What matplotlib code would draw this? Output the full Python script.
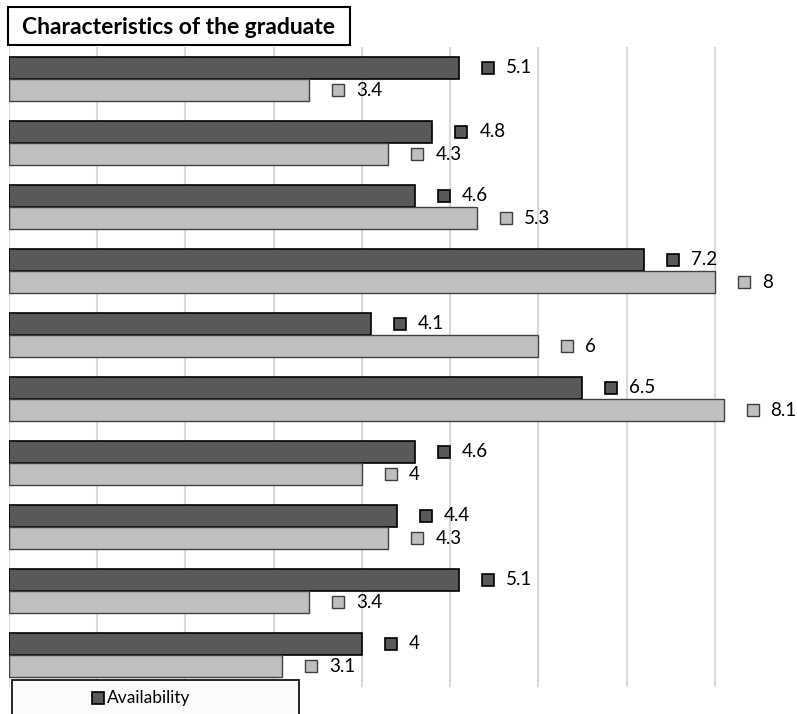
import matplotlib
matplotlib.use("Agg")
import matplotlib.pyplot as plt
from matplotlib.patches import Rectangle
from matplotlib.transforms import offset_copy
import numpy as np

plt.rcParams['font.family'] = ['Lato', 'DejaVu Sans']

title = "Characteristics of the graduate"
series_names = ["Availability", "Importance"]
availability = [5.1, 4.8, 4.6, 7.2, 4.1, 6.5, 4.6, 4.4, 5.1, 4]
importance = [3.4, 4.3, 5.3, 8, 6, 8.1, 4, 4.3, 3.4, 3.1]
value_labels_dark = ["5.1", "4.8", "4.6", "7.2", "4.1", "6.5", "4.6", "4.4", "5.1", "4"]
value_labels_light = ["3.4", "4.3", "5.3", "8", "6", "8.1", "4", "4.3", "3.4", "3.1"]

W, H = 797, 714
fig = plt.figure(figsize=(W / 100, H / 100), dpi=100)
fig.patch.set_facecolor("white")

# axes in pixel coords: left 9, right 803, top 47, bottom 687
ax = fig.add_axes([9 / W, 1 - 687 / H, 794 / W, 640 / H])
n = len(availability)
pos = np.arange(n)
bh = 0.345
dark = "#595959"
light = "#bfbfbf"

ax.barh(pos - bh / 2, availability, height=bh, color=dark, edgecolor="black", linewidth=1.2, zorder=3)
ax.barh(pos + bh / 2, importance, height=bh, color=light, edgecolor="#404040", linewidth=1.0, zorder=3)

ax.set_xlim(0, 9)
ax.set_ylim(n - 0.5, -0.5)
ax.set_xticks(np.arange(0, 9))
ax.xaxis.grid(True, color="#d9d9d9", linewidth=1.5, zorder=0)
ax.set_axisbelow(True)
ax.tick_params(left=False, bottom=False, labelleft=False, labelbottom=False)
for s in ax.spines.values():
    s.set_visible(False)

mk_off = offset_copy(ax.transData, fig=fig, x=29, y=0, units="dots")
for i in range(n):
    ax.plot([availability[i]], [i - bh / 2], marker="s", markersize=8.5, color=dark,
            markeredgecolor="black", markeredgewidth=1.2, transform=mk_off, clip_on=False, zorder=4)
    ax.annotate(value_labels_dark[i], xy=(availability[i], i - bh / 2), xytext=(47 * 0.72, 0),
                textcoords="offset points", va="center", ha="left", fontsize=13.5, color="black",
                annotation_clip=False)
    ax.plot([importance[i]], [i + bh / 2], marker="s", markersize=8.5, color=light,
            markeredgecolor="#404040", markeredgewidth=1.0, transform=mk_off, clip_on=False, zorder=4)
    ax.annotate(value_labels_light[i], xy=(importance[i], i + bh / 2), xytext=(47 * 0.72, 0),
                textcoords="offset points", va="center", ha="left", fontsize=13.5, color="black",
                annotation_clip=False)

# title box
fig.patches.append(Rectangle((8 / W, 1 - 45 / H), 342 / W, 38 / H, transform=fig.transFigure,
                             facecolor="white", edgecolor="black", linewidth=1.5, zorder=5))
fig.text(179 / W, 1 - 27 / H, title, ha="center", va="center", fontsize=16.5, fontweight="bold", zorder=6)

# legend box (cropped at bottom of the picture)
fig.patches.append(Rectangle((12 / W, 1 - 740 / H), 287 / W, 60 / H, transform=fig.transFigure,
                             facecolor="#fbfbfb", edgecolor="black", linewidth=1.2, zorder=5))
fig.patches.append(Rectangle((92 / W, 1 - 704 / H), 12 / W, 12 / H, transform=fig.transFigure,
                             facecolor=dark, edgecolor="black", linewidth=1.2, zorder=6))
fig.text(107 / W, 1 - 698 / H, series_names[0], ha="left", va="center", fontsize=12.5, zorder=6)

fig.savefig("out.png", dpi=100)
